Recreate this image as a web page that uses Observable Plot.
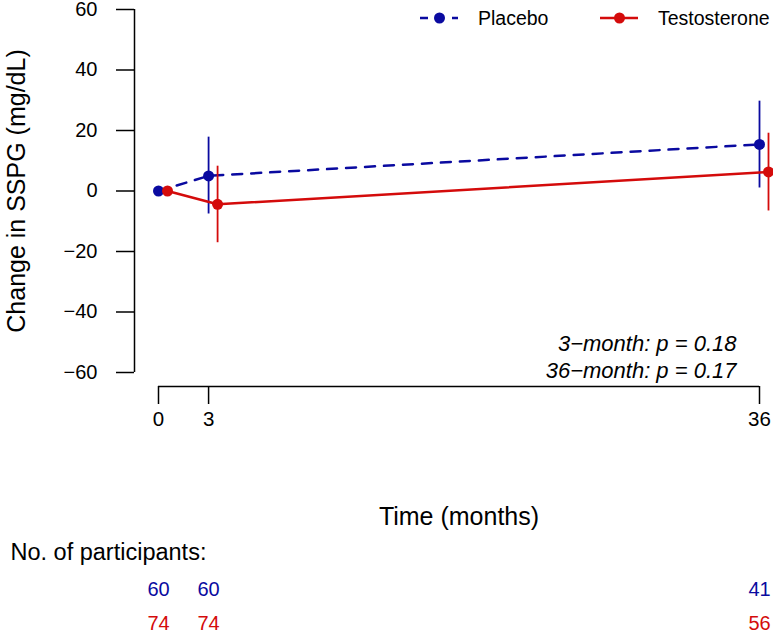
<!DOCTYPE html>
<html><head><meta charset="utf-8">
<script src="https://cdn.jsdelivr.net/npm/d3@7"></script>
<script src="https://cdn.jsdelivr.net/npm/@observablehq/plot@0.6"></script>
<style>
body{margin:0;background:#fff;}
#wrap{position:relative;width:773px;height:634px;font-family:"Liberation Sans",Arial,sans-serif;}
#wrap svg.legend{position:absolute;left:0;top:0;}
</style></head><body><div id="wrap"></div>
<script>
const months = [0, 3, 36];
const placeboMean = [0, 5.0, 15.4];
const placeboLow = [null, -7.6, 1.0];
const placeboHigh = [null, 17.8, 29.7];
const testoMean = [0, -4.4, 6.3];
const testoLow = [null, -17.1, -6.6];
const testoHigh = [null, 8.2, 19.1];
const placeboN = [60, 60, 41];
const testoN = [74, 74, 56];
const yTicks = [-60, -40, -20, 0, 20, 40, 60];
const xTicks = [0, 3, 36];
const groups = ["Placebo", "Testosterone"];
const colors = ["#0a0aa0", "#d40b0b"];
const pLines = ["3\u2212month: p = 0.18", "36\u2212month: p = 0.17"];
const xTitle = "Time (months)";
const yTitle = "Change in SSPG (mg/dL)";
const nTitle = "No. of participants:";

const blue = colors[0], red = colors[1];
const placebo = months.map((m, i) => ({month: m, mean: placeboMean[i], lo: placeboLow[i], hi: placeboHigh[i], n: placeboN[i]}));
const testo = months.map((m, i) => ({month: m, mean: testoMean[i], lo: testoLow[i], hi: testoHigh[i], n: testoN[i]}));
const shift = 9;

const chart = Plot.plot({
  width: 773, height: 634,
  marginLeft: 158, marginRight: 14, marginTop: 9, marginBottom: 262,
  style: {fontFamily: "'Liberation Sans', Arial, sans-serif", fontSize: "20px", background: "#fff", color: "#000", overflow: "visible"},
  x: {domain: [0, 36]},
  y: {domain: [-60, 60]},
  marks: [
    Plot.ruleX([0], {y1: -60, y2: 60, dx: -24, strokeWidth: 1.5, stroke: "#000"}),
    Plot.ruleY([-60], {x1: 0, x2: 36, dy: 14, strokeWidth: 1.5, stroke: "#000"}),
    Plot.axisY(yTicks, {anchor: "left", dx: -24, tickSize: 18, tickPadding: 19, strokeWidth: 1.5, label: null, fontSize: 20}),
    Plot.axisX(xTicks, {anchor: "bottom", dy: 14, tickSize: 18, tickPadding: 7, strokeWidth: 1.5, label: null, fontSize: 20.5}),
    Plot.line(placebo, {x: "month", y: "mean", stroke: blue, strokeWidth: 2.5, strokeDasharray: "10,9"}),
    Plot.ruleX(placebo.filter(d => d.lo != null), {x: "month", y1: "lo", y2: "hi", stroke: blue, strokeWidth: 1.8}),
    Plot.dot(placebo, {x: "month", y: "mean", r: 5.5, fill: blue}),
    Plot.line(testo, {x: "month", y: "mean", stroke: red, strokeWidth: 2.5, dx: shift}),
    Plot.ruleX(testo.filter(d => d.lo != null), {x: "month", y1: "lo", y2: "hi", stroke: red, strokeWidth: 1.8, dx: shift}),
    Plot.dot(testo, {x: "month", y: "mean", r: 5.5, fill: red, dx: shift}),
    Plot.text([pLines.join("\n")], {text: d => d, frameAnchor: "bottom-right", textAnchor: "end", lineAnchor: "bottom", lineHeight: 1.227, dx: -23, dy: 5, fontSize: 22, fontStyle: "italic"}),
    Plot.text([xTitle], {text: d => d, frameAnchor: "bottom", textAnchor: "middle", dy: 152, fontSize: 25}),
    Plot.text([yTitle], {text: d => d, frameAnchor: "left", textAnchor: "middle", dx: -142, rotate: -90, fontSize: 25}),
    Plot.text([nTitle], {text: d => d, frameAnchor: "bottom-left", textAnchor: "start", dx: -148, dy: 187, fontSize: 23.5}),
    Plot.text(placebo, {x: "month", text: d => String(d.n), frameAnchor: "bottom", dy: 223, fill: blue, fontSize: 20}),
    Plot.text(testo, {x: "month", text: d => String(d.n), frameAnchor: "bottom", dy: 257, fill: red, fontSize: 20})
  ]
});
const wrap = document.getElementById("wrap");
wrap.appendChild(chart);

// legend overlay
const leg = d3.select(wrap).append("svg").attr("class", "legend").attr("width", 773).attr("height", 40);
const items = [
  {label: groups[0], color: blue, dash: "8,8", x0: 420},
  {label: groups[1], color: red, dash: null, x0: 600}
];
const g = leg.selectAll("g").data(items).join("g").attr("transform", d => `translate(${d.x0},18)`);
g.append("line").attr("x1", 0).attr("x2", 38).attr("y1", 0).attr("y2", 0)
  .attr("stroke", d => d.color).attr("stroke-width", 2.5).attr("stroke-dasharray", d => d.dash);
g.append("circle").attr("cx", 19.5).attr("cy", 0).attr("r", 5.5).attr("fill", d => d.color);
g.append("text").attr("x", 58).attr("y", 0).attr("dy", "0.35em").attr("font-size", 19.5)
  .attr("font-family", "'Liberation Sans', Arial, sans-serif").text(d => d.label);
</script></body></html>
